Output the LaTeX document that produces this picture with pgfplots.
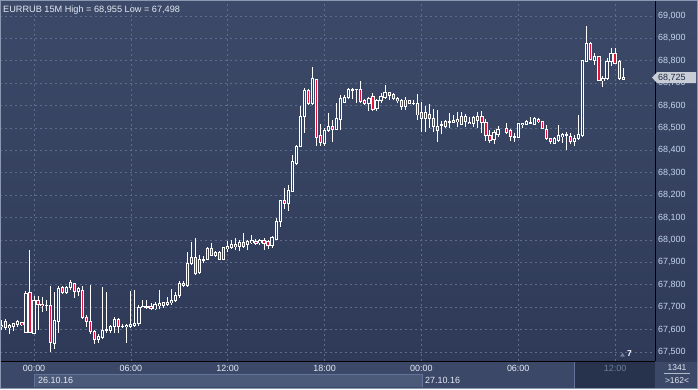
\documentclass[border=0pt]{standalone}
\usepackage{fontspec}
\setmainfont{Liberation Sans}
\usepackage{pgfplots}
\usepackage{pgfplotstable}
\pgfplotsset{compat=1.18}
\pgfdeclarelayer{bg}
\pgfsetlayers{bg,main}
\definecolor{bgtop}{HTML}{3C4968}
\definecolor{bgbot}{HTML}{2E3A57}
\definecolor{gridc}{HTML}{5B6C8E}
\definecolor{lbl}{HTML}{C4D6F0}
\definecolor{txt}{HTML}{E4EAF4}
\definecolor{dimc}{HTML}{6F7E9C}
\definecolor{candred}{HTML}{E0143C}
\definecolor{innerbg}{HTML}{35425F}
\definecolor{stripc}{HTML}{3B4868}
\definecolor{dateband}{HTML}{4C5A79}
\definecolor{futurec}{HTML}{27324C}
\definecolor{boxc}{HTML}{C9CDD6}
\definecolor{boxtext}{HTML}{1E2A44}
\definecolor{framec}{HTML}{8A98B2}
\definecolor{sepc}{HTML}{64739A}

\pgfplotstableread{
k o h l c
-8 67.620 67.643 67.598 67.615
-7 67.636 67.647 67.598 67.610
-6 67.610 67.625 67.583 67.619
-5 67.616 67.631 67.595 67.626
-4 67.624 67.643 67.613 67.636
-3 67.633 67.636 67.616 67.622
-2 67.586 67.774 67.586 67.762
-1 67.766 67.955 67.586 67.586
0 67.586 67.750 67.586 67.731
1 67.731 67.750 67.598 67.714
2 67.714 67.747 67.680 67.708
3 67.710 67.732 67.685 67.708
4 67.708 67.796 67.501 67.542
5 67.539 67.769 67.516 67.643
6 67.636 67.796 67.583 67.784
7 67.790 67.796 67.762 67.765
8 67.765 67.796 67.759 67.790
9 67.787 67.821 67.777 67.811
10 67.808 67.811 67.743 67.772
11 67.771 67.792 67.750 67.783
12 67.775 67.796 67.649 67.656
13 67.655 67.665 67.613 67.637
14 67.638 67.799 67.582 67.591
15 67.594 67.598 67.539 67.557
16 67.558 67.583 67.539 67.569
17 67.566 67.792 67.558 67.598
18 67.597 67.769 67.583 67.601
19 67.598 67.621 67.586 67.615
20 67.613 67.658 67.586 67.647
21 67.647 67.653 67.583 67.613
22 67.614 67.628 67.606 67.616
23 67.613 67.628 67.542 67.619
24 67.616 67.774 67.606 67.624
25 67.621 67.777 67.613 67.628
26 67.628 67.710 67.616 67.699
27 67.699 67.732 67.696 67.705
28 67.703 67.732 67.690 67.705
29 67.705 67.720 67.687 67.693
30 67.693 67.725 67.687 67.713
31 67.708 67.777 67.695 67.716
32 67.710 67.725 67.699 67.720
33 67.713 67.747 67.705 67.723
34 67.720 67.784 67.710 67.732
35 67.732 67.769 67.725 67.754
36 67.754 67.817 67.743 67.807
37 67.807 67.817 67.792 67.798
38 67.799 67.948 67.792 67.896
39 67.896 67.990 67.888 67.923
40 67.923 68.008 67.844 67.851
41 67.854 67.933 67.851 67.914
42 67.911 67.929 67.899 67.914
43 67.914 67.970 67.911 67.963
44 67.963 67.988 67.929 67.932
45 67.932 67.951 67.926 67.946
46 67.946 67.952 67.911 67.914
47 67.914 67.970 67.911 67.967
48 67.962 67.998 67.948 67.972
49 67.967 68.003 67.963 67.982
50 67.982 68.012 67.958 67.970
51 67.970 68.003 67.952 67.988
52 67.988 68.030 67.967 67.970
53 67.978 68.000 67.955 67.993
54 67.988 68.022 67.985 67.997
55 67.995 68.003 67.978 67.984
56 67.988 68.007 67.978 67.997
57 68.000 68.012 67.955 67.985
58 67.995 68.000 67.961 67.975
59 67.975 68.018 67.967 68.010
60 68.004 68.097 68.000 68.085
61 68.082 68.179 68.060 68.179
62 68.179 68.231 68.141 68.164
63 68.164 68.246 68.131 68.219
64 68.216 68.380 68.216 68.350
65 68.342 68.424 68.335 68.420
66 68.417 68.598 68.417 68.554
67 68.554 68.677 68.476 68.670
68 68.670 68.677 68.603 68.610
69 68.610 68.774 68.603 68.722
70 68.717 68.717 68.420 68.458
71 68.464 68.518 68.420 68.435
72 68.432 68.499 68.420 68.491
73 68.488 68.566 68.484 68.506
74 68.509 68.536 68.439 68.494
75 68.494 68.610 68.491 68.543
76 68.536 68.647 68.491 68.632
77 68.613 68.647 68.610 68.637
78 68.637 68.677 68.628 68.673
79 68.670 68.677 68.632 68.673
80 68.673 68.673 68.613 68.672
81 68.673 68.710 68.613 68.618
82 68.622 68.632 68.603 68.610
83 68.610 68.637 68.577 68.632
84 68.640 68.655 68.577 68.583
85 68.586 68.628 68.577 68.622
86 68.622 68.658 68.613 68.640
87 68.637 68.692 68.628 68.661
88 68.661 68.661 68.628 68.644
89 68.652 68.658 68.625 68.631
90 68.632 68.640 68.613 68.622
91 68.625 68.628 68.580 68.598
92 68.595 68.640 68.580 68.625
93 68.625 68.628 68.606 68.610
94 68.612 68.625 68.603 68.613
95 68.610 68.652 68.539 68.558
96 68.568 68.618 68.484 68.543
97 68.542 68.598 68.484 68.568
98 68.562 68.607 68.499 68.542
99 68.542 68.588 68.484 68.506
100 68.506 68.580 68.439 68.488
101 68.512 68.533 68.473 68.516
102 68.506 68.536 68.499 68.531
103 68.527 68.568 68.499 68.531
104 68.527 68.558 68.521 68.536
105 68.530 68.573 68.506 68.538
106 68.516 68.573 68.513 68.551
107 68.528 68.565 68.506 68.551
108 68.521 68.551 68.518 68.527
109 68.521 68.554 68.506 68.548
110 68.533 68.573 68.499 68.551
111 68.554 68.577 68.476 68.524
112 68.524 68.539 68.443 68.469
113 68.469 68.494 68.432 68.446
114 68.449 68.491 68.427 68.479
115 68.473 68.509 68.461 68.494
117 68.498 68.524 68.473 68.479
118 68.488 68.498 68.443 68.461
119 68.464 68.476 68.439 68.461
120 68.458 68.518 68.458 68.518
121 68.516 68.524 68.501 68.521
122 68.516 68.536 68.513 68.528
123 68.521 68.548 68.518 68.524
124 68.518 68.548 68.513 68.543
125 68.539 68.543 68.521 68.528
126 68.528 68.533 68.494 68.498
127 68.494 68.513 68.446 68.454
128 68.454 68.458 68.429 68.439
129 68.434 68.461 68.432 68.454
130 68.446 68.513 68.439 68.469
131 68.461 68.479 68.432 68.469
132 68.469 68.484 68.402 68.470
133 68.464 68.476 68.429 68.439
134 68.439 68.469 68.420 68.454
135 68.454 68.558 68.446 68.473
136 68.470 68.801 68.461 68.801
137 68.796 68.955 68.796 68.878
138 68.878 68.885 68.804 68.807
139 68.801 68.836 68.781 68.821
140 68.821 68.821 68.711 68.711
141 68.711 68.732 68.684 68.722
142 68.722 68.811 68.714 68.796
143 68.796 68.860 68.777 68.833
144 68.833 68.856 68.786 68.789
145 68.796 68.807 68.714 68.722
146 68.717 68.766 68.714 68.725
}\candles

\begin{document}
\begin{tikzpicture}[x=1bp,y=1bp]
\begin{axis}[
  scale only axis, width=655bp, height=361bp,
  xmin=-8.43, xmax=153.9, ymin=67.45982, ymax=69.07143,
  axis background/.style={top color=bgtop, bottom color=bgbot},
  axis line style={draw=none},
  major tick length=0pt,
  grid=major,
  grid style={gridc, dash pattern=on 2bp off 3bp, line width=0.7bp},
  xtick={0,24,48,72,96,120,144},
  xticklabels={00:00,06:00,12:00,18:00,00:00,06:00,{\color{dimc}12:00}},
  ytick={67.5,67.6,67.7,67.8,67.9,68.0,68.1,68.2,68.3,68.4,68.5,68.6,68.7,68.8,68.9,69.0},
  yticklabel pos=right,
  ticklabel style={font=\fontsize{9}{10}\selectfont},
  /pgf/number format/assume math mode=true,
  yticklabel style={text=lbl, anchor=west, inner sep=0pt, xshift=3bp,
    /pgf/number format/fixed, /pgf/number format/fixed zerofill,
    /pgf/number format/precision=3, /pgf/number format/use comma,
    /pgf/number format/1000 sep={}},
  xticklabel style={text=txt, anchor=center, inner sep=0pt, yshift=-7bp},
]
\coordinate (O) at (rel axis cs:0,0);
% wicks
\addplot[draw=none, mark=none, forget plot,
  error bars/.cd, y dir=both, y explicit, error mark=none,
  error bar style={draw=white, line width=1bp}]
  table[x=k, y expr={(\thisrow{h}+\thisrow{l})/2}, y error expr={(\thisrow{h}-\thisrow{l})/2}] {\candles};
% body outline
\addplot[draw=none, mark=none, forget plot,
  error bars/.cd, y dir=both, y explicit, error mark=none,
  error bar style={draw=white, line width=3.2bp}]
  table[x=k, y expr={(\thisrow{o}+\thisrow{c})/2}, y error expr={abs(\thisrow{o}-\thisrow{c})/2+0.0022}] {\candles};
% hollow inner
\addplot[draw=none, mark=none, forget plot,
  error bars/.cd, y dir=both, y explicit, error mark=none,
  error bar style={draw=innerbg, line width=1.2bp}]
  table[x=k, y expr={(\thisrow{o}+\thisrow{c})/2}, y error expr={max(0,abs(\thisrow{o}-\thisrow{c})/2-0.0022)}] {\candles};
% red inner for falling candles
\addplot[draw=none, mark=none, forget plot,
  error bars/.cd, y dir=both, y explicit, error mark=none,
  error bar style={draw=candred, line width=1.2bp}]
  table[x=k, y expr={(\thisrow{o}+\thisrow{c})/2}, y error expr={ifthenelse(\thisrow{o}>\thisrow{c}, max(0,abs(\thisrow{o}-\thisrow{c})/2-0.0022), 0)}] {\candles};
\end{axis}

\begin{scope}[shift={(O)}, yshift=-28bp]
\begin{pgfonlayer}{bg}
\fill[stripc] (0,0) rectangle (698,389);
\shade[top color=bgtop, bottom color=bgbot] (655,28) rectangle (698,389);
\fill[dateband] (34,2) rectangle (422,15);
\draw[sepc, line width=0.7bp] (34,2) -- (34,15) -- (422,15) -- (422,2);
\fill[futurec] (574,1) rectangle (655,28);
\draw[sepc, line width=0.7bp] (574,1) -- (574,28);
\end{pgfonlayer}
% frame lines of plot area
\draw[black, line width=1bp] (0,28) -- (655,28);
\draw[black, line width=1bp] (655,28) -- (655,389);
% title
\node[anchor=west, inner sep=0pt, text=txt, font=\fontsize{9.2}{10}\selectfont] at (3,379) {EURRUB 15M High = 68,955 Low = 67,498};
% current price box
\fill[boxc] (652,311.4) -- (657,316.8) -- (696,316.8) -- (696,306.0) -- (657,306.0) -- cycle;
\node[anchor=west, inner sep=0pt, text=boxtext, font=\fontsize{9}{10}\selectfont] at (658,311.4) {68,725};
% bar count marker
\fill[dimc] (620,32.3) -- (625,32.3) -- (622.5,36.3) -- cycle;
\node[anchor=west, inner sep=0pt, text=white, font=\bfseries\fontsize{8.5}{9}\selectfont] at (627,35) {7};
% dates
\node[anchor=west, inner sep=0pt, text=txt, font=\fontsize{9}{10}\selectfont] at (38,8.5) {26.10.16};
\node[anchor=west, inner sep=0pt, text=txt, font=\fontsize{9}{10}\selectfont] at (425,8.5) {27.10.16};
% bottom right panel
\node[inner sep=0pt, text=txt, font=\fontsize{8.5}{9}\selectfont] at (677,21) {1341};
\draw[txt!70!stripc, line width=0.6bp] (664,15.5) -- (690,15.5);
\node[inner sep=0pt, text=txt, font=\fontsize{8.5}{9}\selectfont] at (677,8) {>162<};
% outer frame
\draw[framec, line width=1.2bp] (0.6,0.6) rectangle (697.4,388.4);
\pgfresetboundingbox
\path[use as bounding box] (0,0) rectangle (698,389);
\end{scope}
\end{tikzpicture}
\end{document}
